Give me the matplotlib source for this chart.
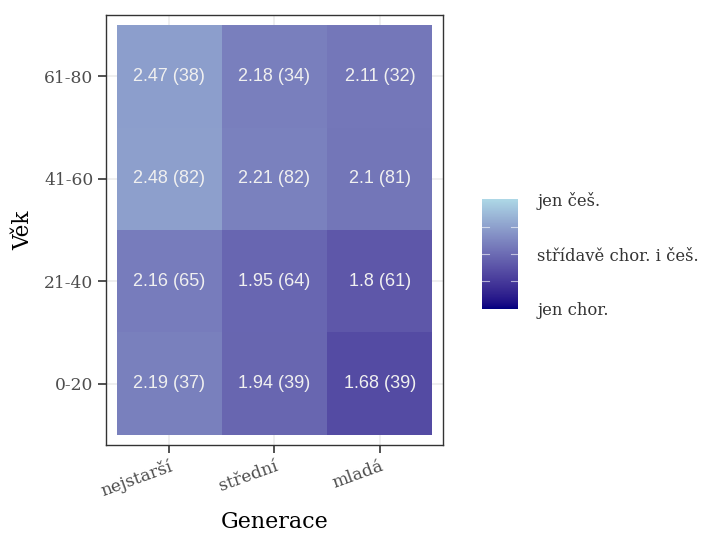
import numpy as np
import matplotlib
matplotlib.use("Agg")
import matplotlib.pyplot as plt
from matplotlib.colors import ListedColormap, Normalize
from matplotlib.cm import ScalarMappable

# data
generace = ["nejstarší", "střední", "mladá"]
vek = ["0-20", "21-40", "41-60", "61-80"]
# rows follow vek (bottom to top), columns follow generace
prumer = [
    [2.19, 1.94, 1.68],
    [2.16, 1.95, 1.80],
    [2.48, 2.21, 2.10],
    [2.47, 2.18, 2.11],
]
pocet = [
    [37, 39, 39],
    [65, 64, 61],
    [82, 82, 81],
    [38, 34, 32],
]
legenda_hodnoty = [1, 2, 3]
legenda_popisky = ["jen chor.", "střídavě chor. i češ.", "jen češ."]


# ggplot-like gradient (navy -> lightblue, interpolated in CIELAB)
def srgb_to_lab(rgb):
    c = np.array(rgb, dtype=float)
    c = np.where(c <= 0.04045, c / 12.92, ((c + 0.055) / 1.055) ** 2.4)
    m = np.array([[0.4124, 0.3576, 0.1805],
                  [0.2126, 0.7152, 0.0722],
                  [0.0193, 0.1192, 0.9505]])
    xyz = m @ c / np.array([0.95047, 1.0, 1.08883])
    f = np.where(xyz > 0.008856, np.cbrt(xyz), 7.787 * xyz + 16 / 116)
    return np.array([116 * f[1] - 16, 500 * (f[0] - f[1]), 200 * (f[1] - f[2])])


def lab_to_srgb(lab):
    L, a, b = lab
    fy = (L + 16) / 116
    fx = fy + a / 500
    fz = fy - b / 200
    f = np.array([fx, fy, fz])
    xyz = np.where(f ** 3 > 0.008856, f ** 3, (f - 16 / 116) / 7.787)
    xyz = xyz * np.array([0.95047, 1.0, 1.08883])
    m = np.array([[3.2406, -1.5372, -0.4986],
                  [-0.9689, 1.8758, 0.0415],
                  [0.0557, -0.2040, 1.0570]])
    c = m @ xyz
    c = np.where(c <= 0.0031308, 12.92 * c, 1.055 * np.clip(c, 0, None) ** (1 / 2.4) - 0.055)
    return np.clip(c, 0, 1)


lo = srgb_to_lab([0 / 255, 0 / 255, 128 / 255])
hi = srgb_to_lab([173 / 255, 216 / 255, 230 / 255])
cmap = ListedColormap([lab_to_srgb(lo + (hi - lo) * t) for t in np.linspace(0, 1, 256)])
norm = Normalize(1, 3)

fig = plt.figure(figsize=(7.06, 5.37), dpi=100)
ax = fig.add_axes([0.1501, 0.1713, 0.4774, 0.8007])

ax.set_xlim(-0.6, 2.6)
ax.set_ylim(-0.6, 3.6)
for i in range(len(generace)):
    ax.axvline(i, color="#EBEBEB", lw=1.1, zorder=0)
for j in range(len(vek)):
    ax.axhline(j, color="#EBEBEB", lw=1.1, zorder=0)

ax.pcolormesh(np.arange(len(generace) + 1) - 0.5, np.arange(len(vek) + 1) - 0.5,
              np.array(prumer), cmap=cmap, norm=norm, zorder=1)

for j in range(len(vek)):
    for i in range(len(generace)):
        ax.text(i, j, f"{prumer[j][i]:g} ({pocet[j][i]})", ha="center", va="center",
                color="#F0F0F0", fontsize=13, family="Liberation Sans", zorder=2)

for s in ax.spines.values():
    s.set_color("#333333")
    s.set_linewidth(1.0)

ax.set_xticks(range(len(generace)))
ax.set_xticklabels(generace, rotation=20, ha="right", va="top", rotation_mode="anchor",
                   family="DejaVu Serif", fontsize=12.3, color="#4D4D4D")
ax.set_yticks(range(len(vek)))
ax.set_yticklabels(vek, family="DejaVu Serif", fontsize=12.3, color="#4D4D4D")
ax.tick_params(length=5.5, width=1.2, color="#333333", pad=3.5)
ax.set_xlabel("Generace", family="DejaVu Serif", fontsize=16, labelpad=8)
ax.set_ylabel("Věk", family="DejaVu Serif", fontsize=15.5, labelpad=7)

# colour bar
cax = fig.add_axes([0.6827, 0.4246, 0.051, 0.2048])
cb = fig.colorbar(ScalarMappable(norm=norm, cmap=cmap), cax=cax)
cb.outline.set_visible(False)
cb.set_ticks(legenda_hodnoty)
cb.set_ticklabels(legenda_popisky)
cax.tick_params(length=0, pad=14)
for t in cax.get_yticklabels():
    t.set_family("DejaVu Serif")
    t.set_fontsize(11.8)
    t.set_color("#333333")
for v in [1.5, 2, 2.5]:
    cax.plot([0, 0.2], [v, v], color="white", lw=0.8, alpha=0.6)
    cax.plot([0.8, 1], [v, v], color="white", lw=0.8, alpha=0.6)

fig.savefig("out.png", dpi=100)
